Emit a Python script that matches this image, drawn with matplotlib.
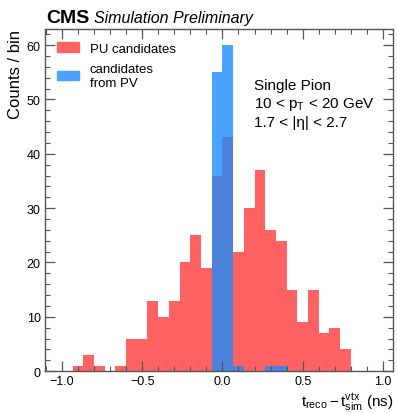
import numpy as np
import matplotlib
matplotlib.use("Agg")
import matplotlib.pyplot as plt
from matplotlib.patches import Patch
from matplotlib.ticker import MultipleLocator

plt.rcParams['font.family'] = ['Liberation Sans', 'DejaVu Sans']
plt.rcParams['mathtext.fontset'] = 'custom'
plt.rcParams['mathtext.rm'] = 'Liberation Sans'
plt.rcParams['mathtext.it'] = 'Liberation Sans:italic'

# bins of width 1/15 ns from -1 to 1
edges = np.arange(-15, 16) / 15.0
pu_counts = [0, 1, 3, 1, 0, 1, 6, 6, 13, 10, 13, 20, 25, 19, 36,
             43, 22, 30, 37, 26, 24, 15, 9, 15, 7, 8, 4, 0, 0, 0]
pv_counts = [0, 0, 0, 0, 0, 0, 0, 0, 0, 0, 0, 0, 0, 0, 55,
             60, 1, 0, 0, 1, 1, 0, 0, 0, 0, 0, 0, 0, 0, 0]

red = '#ff6262'
blue = '#4ca3ff'
overlap = '#4a82dc'

fig = plt.figure(figsize=(3.97, 4.14), dpi=100)
ax = fig.add_axes([0.113, 0.101, 0.877, 0.827])

centers = 0.5 * (edges[:-1] + edges[1:])
w = np.diff(edges)
pu = np.array(pu_counts)
pv = np.array(pv_counts)
ax.bar(centers, pu, width=w, color=red, linewidth=0)
ax.bar(centers, pv, width=w, color=blue, linewidth=0)
# overlap of the two histograms shows darker
ax.bar(centers, np.minimum(pu, pv), width=w, color=overlap, linewidth=0)

ax.set_xlim(-1.106, 1.063)
ax.set_ylim(0, 63)
ax.xaxis.set_major_locator(MultipleLocator(0.5))
ax.xaxis.set_minor_locator(MultipleLocator(0.1))
ax.yaxis.set_major_locator(MultipleLocator(10))
ax.yaxis.set_minor_locator(MultipleLocator(2))
ax.tick_params(which='both', direction='in', top=True, right=True,
               labelsize=9, color='#555555', pad=3)
ax.tick_params(which='major', length=7, width=0.9)
ax.tick_params(which='minor', length=3.5, width=0.8)
for s in ax.spines.values():
    s.set_color('#555555')
    s.set_linewidth(1.0)

ax.set_ylabel('Counts / bin', fontsize=12, loc='top', labelpad=3)
ax.set_xlabel(r'$\mathrm{t_{reco} - t_{sim}^{vtx}}$ (ns)', fontsize=11,
              loc='right', labelpad=2)

fig.text(0.116, 0.944, 'CMS', fontsize=14, fontweight='bold')
fig.text(0.238, 0.944, 'Simulation Preliminary', fontsize=11.5, style='italic')

handles = [Patch(color=red, label='PU candidates'),
           Patch(color=blue, label='candidates\nfrom PV')]
ax.legend(handles=handles, loc='upper left', bbox_to_anchor=(0.0, 0.995),
          frameon=False, fontsize=9.5, handlelength=1.7, handleheight=0.75,
          handletextpad=0.8, labelspacing=0.6)

ax.text(0.60, 0.825, 'Single Pion', transform=ax.transAxes, fontsize=11)
ax.text(0.60, 0.772, r'10 < p$_\mathrm{T}$ < 20 GeV', transform=ax.transAxes, fontsize=11)
ax.text(0.60, 0.717, '1.7 < |η| < 2.7', transform=ax.transAxes, fontsize=11)

fig.savefig('out.png', dpi=100)
